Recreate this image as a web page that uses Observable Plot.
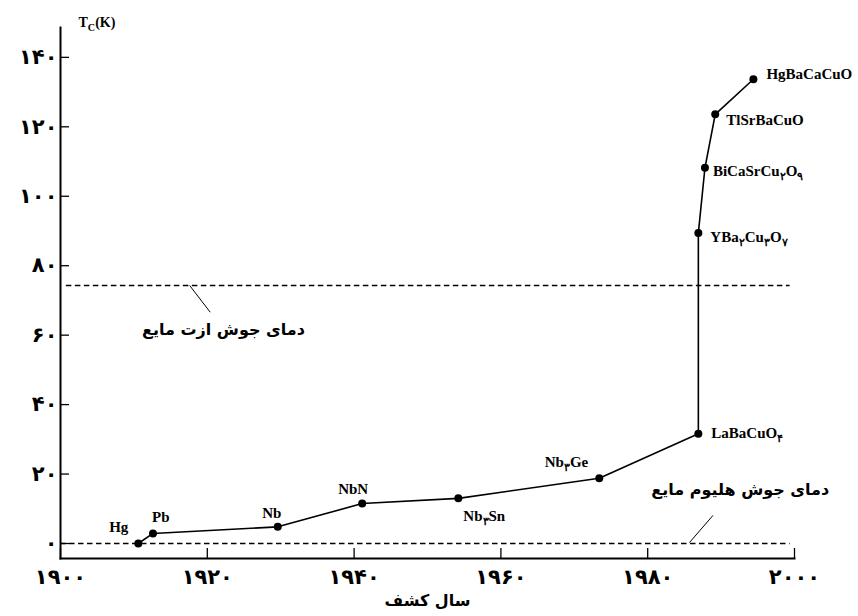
<!DOCTYPE html>
<html>
<head>
<meta charset="utf-8">
<script src="https://cdn.jsdelivr.net/npm/d3@7"></script>
<script src="https://cdn.jsdelivr.net/npm/@observablehq/plot@0.6"></script>
<style>
  html, body { margin: 0; padding: 0; background: #fff; }
  #chart { width: 858px; height: 616px; }
</style>
</head>
<body>
<div id="chart"></div>
<script>
// ---- data ----
const materials = ["Hg", "Pb", "Nb", "NbN", "Nb{۳}Sn", "Nb{۳}Ge", "LaBaCuO{۴}", "YBa{۲}Cu{۳}O{۷}", "BiCaSrCu{۲}O{۹}", "TlSrBaCuO", "HgBaCaCuO"];
const discoveryYears = [1910.6, 1912.6, 1929.6, 1941.1, 1954.2, 1973.4, 1986.9, 1986.9, 1987.8, 1989.2, 1994.4];
const criticalTemps = [0, 2.9, 4.8, 11.5, 13.0, 18.8, 31.6, 89.4, 108.2, 123.6, 133.7];

const xTicks = [1900, 1920, 1940, 1960, 1980, 2000];
const xTickLabels = ["۱۹۰۰", "۱۹۲۰", "۱۹۴۰", "۱۹۶۰", "۱۹۸۰", "۲۰۰۰"];
const yTicks = [0, 20, 40, 60, 80, 100, 120, 140];
const yTickLabels = ["۰", "۲۰", "۴۰", "۶۰", "۸۰", "۱۰۰", "۱۲۰", "۱۴۰"];

const refNames = ["دمای جوش ازت مایع", "دمای جوش هلیوم مایع"];
const refValues = [74.3, 0];
const refStartYears = [1900.8, 1900];
const refEndYears = [1999.4, 1999.4];
const refLabelYears = [1922.2, 1992.6];
const refLabelValues = [61.4, 15.3];
const leaderFromYears = [1917.6, 1985.7];
const leaderFromValues = [74.3, 0.3];
const leaderToYears = [1920.4, 1988.9];
const leaderToValues = [66.6, 8.1];

const xLabel = "سال کشف";
const yLabel = "T{C}(K)";

// ---- tables ----
const points = materials.map((name, i) => ({name, year: discoveryYears[i], tc: criticalTemps[i]}));
const refs = refNames.map((name, i) => ({
  name, value: refValues[i], x1: refStartYears[i], x2: refEndYears[i],
  lx: refLabelYears[i], ly: refLabelValues[i],
  ax: leaderFromYears[i], ay: leaderFromValues[i], bx: leaderToYears[i], by: leaderToValues[i]
}));

// label placement (layout only)
const placement = {
  "Hg": ["end", -10, -16],
  "Pb": ["start", -1, -16],
  "Nb": ["middle", -6, -14],
  "NbN": ["middle", -9, -14],
  "Nb{۳}Sn": ["start", 5, 18],
  "Nb{۳}Ge": ["end", -11, -16],
  "LaBaCuO{۴}": ["start", 13, -1],
  "YBa{۲}Cu{۳}O{۷}": ["start", 12, 4],
  "BiCaSrCu{۲}O{۹}": ["start", 8, 3],
  "TlSrBaCuO": ["start", 11, 6],
  "HgBaCaCuO": ["start", 13, -5]
};

const serif = "'Liberation Serif', 'Times New Roman', serif";
const arabic = "'DejaVu Sans', sans-serif";

const labelMarks = points.map(p => {
  const [anchor, dx, dy] = placement[p.name];
  return Plot.text([p], {
    x: "year", y: "tc", text: "name", textAnchor: anchor, dx, dy,
    fontFamily: serif, fontWeight: "bold", fontSize: 15, fill: "black"
  });
});

const chart = Plot.plot({
  width: 858,
  height: 616,
  marginLeft: 60,
  marginRight: 64,
  marginTop: 27,
  marginBottom: 58,
  x: {domain: [1900, 2000]},
  y: {domain: [-4.32, 148.6]},
  style: {background: "white", color: "black", overflow: "visible"},
  marks: [
    // tick marks pointing inward
    Plot.axisX(xTicks, {tickSize: -10, tickFormat: () => "", strokeWidth: 1.3, label: null}),
    Plot.axisY(yTicks, {tickSize: -9, tickFormat: () => "", strokeWidth: 1.3, label: null}),
    // tick labels
    Plot.axisX(xTicks, {tickSize: 0, tickPadding: 11, tickFormat: (d, i) => xTickLabels[i],
      fontFamily: arabic, fontWeight: "bold", fontSize: 21, label: null}),
    Plot.axisY(yTicks, {tickSize: 0, tickPadding: 3, tickFormat: (d, i) => yTickLabels[i],
      fontFamily: arabic, fontWeight: "bold", fontSize: 21, label: null}),
    Plot.frame({anchor: "left", strokeWidth: 2}),
    Plot.frame({anchor: "bottom", strokeWidth: 2}),
    // reference lines
    Plot.ruleY(refs, {y: "value", x1: "x1", x2: "x2", stroke: "black", strokeWidth: 1.3, strokeDasharray: "5.5,3.5"}),
    Plot.link(refs, {x1: "ax", y1: "ay", x2: "bx", y2: "by", stroke: "black", strokeWidth: 1}),
    Plot.text(refs, {x: "lx", y: "ly", text: "name", fontFamily: arabic, fontWeight: "bold", fontSize: 16, fill: "black"}),
    // data
    Plot.line(points, {x: "year", y: "tc", stroke: "black", strokeWidth: 1.6}),
    Plot.dot(points, {x: "year", y: "tc", r: 4, fill: "black", stroke: "none"}),
    ...labelMarks,
    // axis titles
    Plot.text([yLabel], {frameAnchor: "top-left", dx: 18, dy: -10, textAnchor: "start",
      fontFamily: serif, fontWeight: "bold", fontSize: 14, fill: "black"}),
    Plot.text([xLabel], {frameAnchor: "bottom", dy: 47, fontFamily: arabic, fontWeight: "bold", fontSize: 16, fill: "black"})
  ]
});

// turn {..} into subscripts
const NS = "http://www.w3.org/2000/svg";
chart.querySelectorAll("text").forEach(t => {
  const s = t.textContent;
  if (!s.includes("{")) return;
  while (t.firstChild) t.removeChild(t.firstChild);
  let shifted = false;
  s.split(/(\{[^}]*\})/).forEach(part => {
    if (!part) return;
    const ts = document.createElementNS(NS, "tspan");
    if (part.startsWith("{")) {
      ts.textContent = part.slice(1, -1);
      ts.setAttribute("font-size", "0.72em");
      if (!shifted) { ts.setAttribute("dy", "4"); shifted = true; }
    } else {
      ts.textContent = part;
      if (shifted) { ts.setAttribute("dy", "-4"); shifted = false; }
    }
    t.appendChild(ts);
  });
});
chart.querySelectorAll("[aria-label='x-axis tick label'] text, [aria-label='y-axis tick label'] text").forEach(t => {
  t.setAttribute("letter-spacing", "5");
});

document.getElementById("chart").appendChild(chart);
</script>
</body>
</html>
